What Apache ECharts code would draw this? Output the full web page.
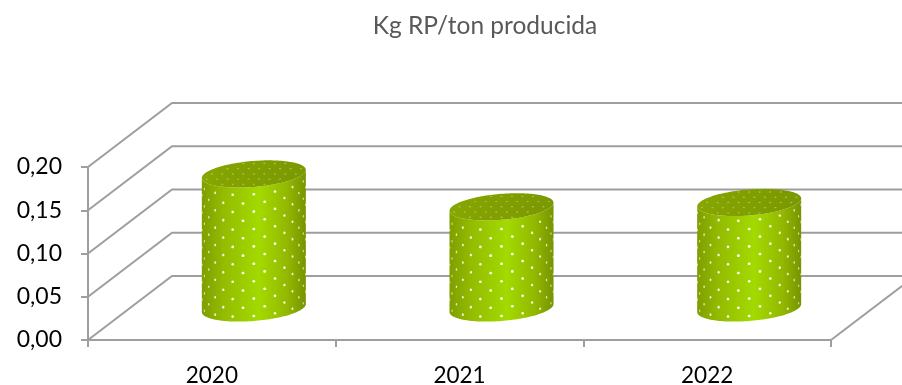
<!DOCTYPE html>
<html>
<head>
<meta charset="utf-8">
<style>html,body{margin:0;padding:0;background:#fff}#chart{width:902px;height:385px}</style>
<script src="https://cdn.jsdelivr.net/npm/echarts@6/dist/echarts.min.js"></script>
</head>
<body>
<div id="chart"></div>
<script>
// Residue generated per ton produced, by year
const years = ['2020', '2021', '2022'];
const kgPerTon = [0.155, 0.117, 0.122];
const yTicks = [0, 0.05, 0.1, 0.15, 0.2];

// Pseudo-3D box: how far the back wall sits from the front plane
const DEPTH_X = 84;
const DEPTH_Y = -64;
const WALL = '#9e9e9e';
const FONT = 'Lato, "Open Sans", sans-serif';

const chart = echarts.init(document.getElementById('chart'), null, {renderer: 'canvas'});

function wallLine(pts) {
  return {
    type: 'polyline',
    shape: {points: pts},
    style: {fill: null, stroke: WALL, lineWidth: 2}
  };
}

// Side-wall diagonal and back-wall gridline for each tick
function renderWall(params, api) {
  const sys = params.coordSys;
  const y = api.coord([0, api.value(0)])[1];
  const x0 = sys.x;
  return wallLine([[x0, y], [x0 + DEPTH_X, y + DEPTH_Y], [sys.x + sys.width + DEPTH_X, y + DEPTH_Y]]);
}

// Floor edge rising from the right end of the front axis
function renderFloorEdge(params, api) {
  const sys = params.coordSys;
  const y = api.coord([0, 0])[1];
  const x = sys.x + sys.width;
  return wallLine([[x, y], [x + DEPTH_X, y + DEPTH_Y]]);
}

// Cylinder standing mid-depth in the box, with a dotted surface
function renderCylinder(params, api) {
  const idx = api.value(0);
  const base = api.coord([idx, 0]);
  const top = api.coord([idx, api.value(1)]);
  const a = api.size([1, 0])[0] * 0.21;
  const b = 13;
  const k = 4;
  const cx = base[0] + DEPTH_X / 2;
  const yBase = base[1] + DEPTH_Y / 2;
  const yTop = top[1] + DEPTH_Y / 2;
  const curve = (t) => [a * Math.sin(t), b * Math.cos(t) - k * Math.sin(t)];

  const side = [];
  const lid = [];
  const N = 72;
  for (let i = 0; i <= N; i++) {
    const t = -Math.PI / 2 + Math.PI * i / N;
    const p = curve(t);
    side.push([cx + p[0], yBase + p[1]]);
  }
  for (let i = N; i >= 0; i--) {
    const t = -Math.PI / 2 + Math.PI * i / N;
    const p = curve(t);
    side.push([cx + p[0], yTop + p[1]]);
  }
  for (let i = 0; i < N * 2; i++) {
    const p = curve(Math.PI * i / N);
    lid.push([cx + p[0], yTop + p[1]]);
  }

  const children = [{
    type: 'polygon',
    shape: {points: side},
    style: {
      fill: new echarts.graphic.LinearGradient(0, 0, 1, 0, [
        {offset: 0, color: '#7f9e00'},
        {offset: 0.2, color: '#93bb00'},
        {offset: 0.55, color: '#a3da00'},
        {offset: 0.82, color: '#93b800'},
        {offset: 1, color: '#769400'}
      ])
    }
  }, {
    type: 'polygon',
    shape: {points: lid},
    style: {
      fill: new echarts.graphic.LinearGradient(0, 0, 1, 0, [
        {offset: 0, color: '#86a600'},
        {offset: 1, color: '#7a9800'}
      ])
    }
  }];

  // Dots wrap around the barrel: columns get tighter toward the edges
  const step = 12 * Math.PI / 180;
  const rowGap = 17.4;
  for (let j = -7; j <= 7; j++) {
    const th = j * step;
    const p = curve(th);
    const shift = Math.abs(j) % 2 ? rowGap / 2 : 0;
    for (let r = 0; ; r++) {
      const up = r * rowGap + shift + 5;
      if (up > yBase - yTop - 2) break;
      const edge = Math.cos(th);
      children.push({
        type: 'ellipse',
        shape: {
          cx: cx + p[0],
          cy: yBase + p[1] - up,
          rx: Math.max(0.6, 1.5 * edge),
          ry: 1.3
        },
        style: {fill: 'rgba(255,255,255,' + (0.55 + 0.4 * edge) + ')'}
      });
    }
  }

  // Fainter dots on the lid, skewed along its tilt
  const gapX = 10.5;
  const gapY = 5.2;
  for (let r = -3; r <= 3; r++) {
    for (let c = -6; c <= 6; c++) {
      const dy = r * gapY;
      const dx = c * gapX + (r % 2 ? gapX / 2 : 0);
      const u = dx / a;
      const v = (dy + k * u) / b;
      if (u * u + v * v > 0.86) continue;
      children.push({
        type: 'ellipse',
        shape: {cx: cx + dx, cy: yTop + dy, rx: 1.1, ry: 0.7},
        style: {fill: 'rgba(215,228,150,0.5)'}
      });
    }
  }
  return {type: 'group', children: children};
}

chart.setOption({
  animation: false,
  backgroundColor: '#fff',
  title: {
    text: 'Kg RP/ton producida',
    left: 480,
    top: 9,
    textAlign: 'center',
    textStyle: {color: '#595959', fontSize: 24.5, fontWeight: 'normal', fontFamily: FONT}
  },
  grid: {left: 88, right: 71, top: 167, bottom: 45, outerBoundsMode: 'none'},
  xAxis: {
    type: 'category',
    data: years,
    axisLine: {lineStyle: {color: WALL, width: 2}},
    axisTick: {show: true, length: 7, lineStyle: {color: WALL, width: 2}},
    axisLabel: {color: '#000', fontSize: 22.5, fontFamily: FONT, margin: 24}
  },
  yAxis: {
    type: 'value',
    min: 0,
    max: 0.2,
    interval: 0.05,
    axisLine: {show: true, lineStyle: {color: WALL, width: 2}},
    axisTick: {show: true, length: 7, lineStyle: {color: WALL, width: 2}},
    splitLine: {show: false},
    axisLabel: {
      color: '#000',
      fontSize: 23,
      fontFamily: FONT,
      margin: 26,
      formatter: (v) => v.toFixed(2).replace('.', ',')
    }
  },
  series: [{
    type: 'custom',
    clip: false,
    z: 1,
    renderItem: renderWall,
    encode: {y: 0},
    data: yTicks.map((v) => [v])
  }, {
    type: 'custom',
    clip: false,
    z: 1,
    renderItem: renderFloorEdge,
    data: [[0, 0]]
  }, {
    type: 'custom',
    clip: false,
    z: 3,
    renderItem: renderCylinder,
    encode: {x: 0, y: 1},
    data: kgPerTon.map((v, i) => [i, v])
  }]
});
</script>
</body>
</html>
